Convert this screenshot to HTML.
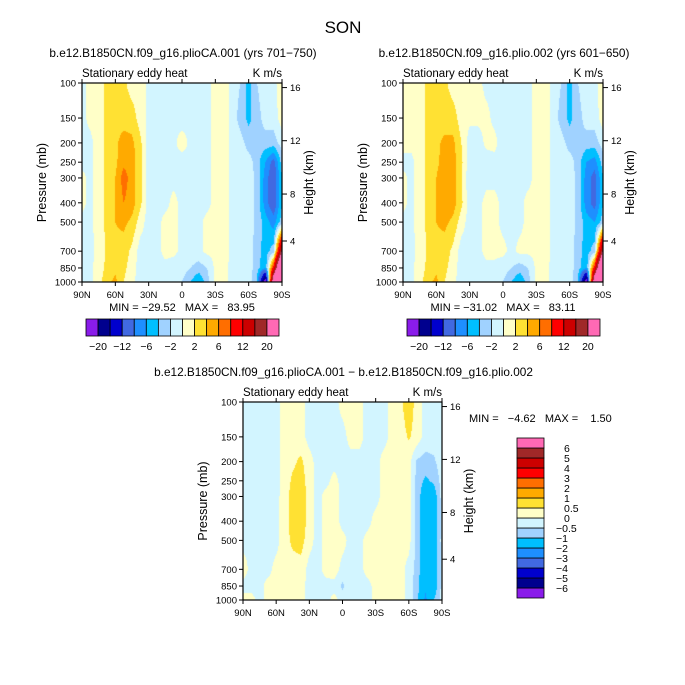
<!DOCTYPE html>
<html><head><meta charset="utf-8">
<style>
html,body{margin:0;padding:0;background:#fff;}
#wrap{position:relative;width:685px;height:685px;overflow:hidden;background:#fff;}
canvas{position:absolute;}
svg{position:absolute;left:0;top:0;}
text{font-family:"Liberation Sans",sans-serif;fill:#000;white-space:pre;}
</style></head>
<body>
<div id="wrap">
<canvas id="cA" width="200" height="199" style="left:82px;top:83px"></canvas>
<canvas id="cB" width="200" height="199" style="left:403px;top:83px"></canvas>
<canvas id="cC" width="199" height="198" style="left:243px;top:402px"></canvas>
<svg id="svg" width="685" height="685"></svg>
</div>
<script>
const pLevels=[100,150,200,250,300,400,500,700,850,1000];
const latLabels=["90N","60N","30N","0","30S","60S","90S"];
const pLabels=[100,150,200,250,300,400,500,700,850,1000];
const heightLabels=[16,12,8,4];
const heightFrac=[0.023,0.29,0.558,0.794];
const levelsTop=[-20,-16,-12,-8,-6,-4,-2,0,2,4,6,8,12,16,20];
const levelsDiff=[-6,-5,-4,-3,-2,-1,-0.5,0,0.5,1,2,3,4,5,6];
const barLabelsTop=["\u221220","\u221212","\u22126","\u22122","2","6","12","20"];
const barLabelsDiff=["6","5","4","3","2","1","0.5","0","\u22120.5","\u22121","\u22122","\u22123","\u22124","\u22125","\u22126"];
const colors=["#8A1CEA","#00008E","#0000CD","#4169E1","#1E8FFF","#00BFFF","#A0D2FF","#D2F5FF","#FFFFC8","#FFE133","#FFAA00","#FF6E00","#FF0000","#CC0000","#A02828","#FF69B4"];
// 25 latitude columns 90N..90S (7.5 deg), rows = pLevels
const panelA=[
[-0.5,0.5,1,2.5,3,2.5,1,1,-0.5,-0.5,-0.5,-0.5,-0.5,-1,-0.5,-0.5,0.5,1,-0.5,-2,-5,-2,-0.5,-0.5,1],
[-0.5,0.5,1,2.5,3,3,3,1,-0.5,-1,-0.5,-0.5,-1,-0.5,-0.5,-0.5,0.5,1,-0.5,-3,-4.5,-3,-1,-1,1],
[-0.5,-0.5,1,2.5,3.5,5,4.5,2.5,-1,-1,-1,-0.5,1,-0.5,-0.5,-0.5,0.5,1,-0.5,-1,-3,-3,-3,-3,-1],
[-0.5,-0.5,1,2.5,3.5,5.5,5,2.5,-1,-1,-1,-0.5,-1,-0.5,-0.5,-0.5,0.5,1,-0.5,-0.5,-1,-3,-6,-9,-3],
[0.5,-0.5,1,2.5,4,7,5,2.5,-1,-0.5,-0.5,-0.5,-0.5,-0.5,-0.5,-0.5,0.5,1,-0.5,-0.5,-1,-2.5,-7,-10,-4],
[0.5,-0.5,1,2.5,4,6,5,2.5,-1,-0.5,-0.5,0.5,-0.5,-0.5,-0.5,-0.5,0.5,1,-0.5,-0.5,-1,-2.5,-7,-10,-4],
[-0.5,-0.5,1,2.5,4,4.5,3.5,1,-1,-0.5,0.5,0.5,-0.5,-0.5,-0.5,0.5,0.5,1,-0.5,-0.5,-1,-2.5,-5,-7,-3],
[-0.5,-0.5,0.5,2.5,3.5,3,1.5,-1,-1,-0.5,0.5,0.5,-0.5,-0.5,-0.5,0.5,0.5,1,-0.5,-0.5,-1,-3,-5,-3,20],
[-0.5,-0.5,1,2.5,3.5,2.5,1,-1,-0.5,-0.5,-0.5,-1,-1,-2,-3,-2,0.5,0.5,-0.5,-0.5,-1,-3,-6,10,40],
[-0.5,-0.5,1,3.5,4.5,2,0.5,-1,-0.5,-0.5,-0.5,-1,-2,-4,-6,-3,0.5,0.5,-0.5,-0.5,-1,-4,-25,30,60]];
const panelB=[
[0.5,0.5,1,2.5,3,2.5,1,0.5,0.5,0.5,-0.5,-0.5,-1,-1,-0.5,-0.5,0.5,1,-0.5,-2,-5,-2,-0.5,-0.5,1],
[0.5,0.5,1,2.5,3,3,3,1,0.5,0.5,0.5,-0.5,-1,-0.5,-0.5,-0.5,0.5,1,-0.5,-3,-4.5,-3,-1,-1,1],
[0.5,0.5,1,2.5,3.5,4.5,4.5,2,-1,-1,0.5,0.5,-1,-0.5,-0.5,-0.5,0.5,1,-0.5,-1,-3,-2.5,-3,-3,-1],
[-0.5,-0.5,1,2.5,3.5,5,5,2.5,-1,-1,-1,-0.5,-1,-0.5,-0.5,-0.5,0.5,1,-0.5,-0.5,-1,-3,-6,-7,-3],
[0.5,-0.5,1,2.5,4,5.5,5,2.5,-2,-1,-0.5,-0.5,-0.5,-0.5,-0.5,-0.5,0.5,1,-0.5,-0.5,-1,-2.5,-7,-9,-4],
[0.5,-0.5,1,2.5,4,5.5,5,2.5,-1,-0.5,0.5,0.5,-0.5,-0.5,-0.5,0.5,0.5,1,-0.5,-0.5,-1,-2.5,-7,-9,-4],
[-0.5,-0.5,1,2.5,4,4.5,3.5,1,-1,-0.5,0.5,0.5,-0.5,-0.5,-0.5,0.5,0.5,1,-0.5,-0.5,-1,-2.5,-5,-6,-3],
[-0.5,-0.5,0.5,2.5,3.5,3,1.5,-1,-1,-0.5,0.5,0.5,0.5,-0.5,0.5,0.5,0.5,1,-0.5,-0.5,-1,-3,-5,-3,20],
[-0.5,-0.5,1,2.5,3.5,2.5,1,-1,-0.5,-0.5,-0.5,-0.5,-1,-2,-3,-2,0.5,0.5,-0.5,-0.5,-1,-3,-6,10,40],
[-0.5,-0.5,1,3.5,4.5,2,0.5,-1,-0.5,-0.5,-0.5,-1,-2,-4,-6,-3,0.5,0.5,-0.5,-0.5,-1,-4,-25,30,60]];
const panelC=[
[-0.2,-0.2,-0.2,-0.2,-0.2,0.2,0.3,0.2,-0.2,-0.2,-0.2,-0.2,0.2,0.3,0.2,-0.2,-0.2,-0.2,0.2,0.4,0.8,0.3,-0.2,-0.2,-0.2],
[-0.2,-0.2,-0.2,-0.2,-0.2,0.2,0.3,0.2,-0.2,-0.2,-0.2,-0.2,-0.2,0.2,0.2,-0.2,-0.2,-0.2,0.2,0.3,0.55,0.3,-0.2,-0.2,-0.2],
[-0.2,-0.2,-0.2,-0.2,-0.2,0.2,0.4,0.6,0.2,-0.2,-0.2,-0.2,-0.2,-0.2,-0.2,-0.2,-0.2,0.2,0.3,0.3,0.2,-0.6,-0.7,-0.6,-0.2],
[-0.2,-0.2,-0.2,-0.2,-0.2,0.2,0.6,0.7,0.3,-0.2,-0.2,0.2,-0.2,-0.2,-0.2,-0.2,-0.2,0.2,0.3,0.3,0.2,-0.7,-1.1,-0.9,-0.3],
[-0.2,-0.2,-0.2,-0.2,-0.2,0.3,0.7,0.8,0.3,-0.2,0.2,0.3,-0.2,-0.2,-0.2,-0.2,-0.2,0.2,0.3,0.3,0.2,-0.7,-1.5,-1.4,-0.3],
[-0.2,-0.2,-0.2,-0.2,-0.2,0.3,0.7,0.8,0.3,-0.2,0.2,0.3,-0.2,-0.2,-0.2,-0.2,0.2,0.2,0.3,0.3,0.2,-0.7,-1.6,-1.5,-0.3],
[-0.2,-0.2,-0.2,-0.2,-0.2,0.3,0.6,0.7,0.2,-0.2,0.2,0.3,0.2,-0.2,-0.2,0.2,0.2,0.2,0.3,0.3,0.2,-0.7,-1.5,-1.4,-0.3],
[0.3,-0.2,-0.2,-0.2,0.2,0.3,0.3,0.3,-0.2,-0.2,0.2,0.3,-0.2,-0.2,-0.2,0.2,0.2,0.2,0.3,0.2,-0.2,-0.7,-1.6,-1.5,-0.3],
[-0.2,-0.2,-0.2,0.2,0.2,0.2,0.3,0.2,-0.2,-0.2,-0.2,-0.2,-0.6,-0.2,-0.2,-0.2,0.2,0.2,0.3,0.2,-0.2,-0.8,-1.8,-1.5,-0.3],
[0.2,0.2,-0.2,0.2,0.2,0.2,0.2,0.2,-0.2,-0.2,-0.2,0.2,-0.2,-0.2,-0.2,-0.2,0.2,0.2,0.3,0.2,-0.2,-0.8,-2.2,-1.0,-0.3]];

function levelIndex(v,levels){let i=0;while(i<levels.length&&v>=levels[i])i++;return i;}
function hexRGB(h){return [parseInt(h.substr(1,2),16),parseInt(h.substr(3,2),16),parseInt(h.substr(5,2),16)];}
const rgb=colors.map(hexRGB);
const logP=pLevels.map(p=>Math.log10(p));
function drawField(id,grid,levels){
  const cv=document.getElementById(id),ctx=cv.getContext('2d');
  const W=cv.width,H=cv.height,img=ctx.createImageData(W,H);
  const nc=grid[0].length;
  for(let y=0;y<H;y++){
    const lp=2+(y+0.5)/H;
    let r=0;while(r<logP.length-2&&lp>logP[r+1])r++;
    const t=Math.min(1,Math.max(0,(lp-logP[r])/(logP[r+1]-logP[r])));
    for(let x=0;x<W;x++){
      const u=(x+0.5)/W*(nc-1);let c=Math.min(nc-2,Math.floor(u));const s=u-c;
      const v0=grid[r][c]*(1-s)+grid[r][c+1]*s, v1=grid[r+1][c]*(1-s)+grid[r+1][c+1]*s;
      const v=v0*(1-t)+v1*t;
      const col=rgb[levelIndex(v,levels)];
      const k=(y*W+x)*4;img.data[k]=col[0];img.data[k+1]=col[1];img.data[k+2]=col[2];img.data[k+3]=255;
    }
  }
  ctx.putImageData(img,0,0);
}
drawField('cA',panelA,levelsTop);
drawField('cB',panelB,levelsTop);
drawField('cC',panelC,levelsDiff);

const NS="http://www.w3.org/2000/svg";
const svg=document.getElementById('svg');
function el(tag,attrs,parent){const e=document.createElementNS(NS,tag);for(const k in attrs)e.setAttribute(k,attrs[k]);(parent||svg).appendChild(e);return e;}
function txt(x,y,s,size,anchor,parent,rot){const t=el('text',{x:x,y:y,'font-size':size,'text-anchor':anchor||'start'},parent);if(rot)t.setAttribute('transform','rotate(-90 '+x+' '+y+')');t.textContent=s;return t;}

function axes(name,x0,y0,w,h,title){
  const g=el('g',{});
  
  
  el('rect',{x:x0,y:y0,width:w,height:h,fill:'none',stroke:'#000','stroke-width':1.2},g);
  for(let i=0;i<latLabels.length;i++){
    const x=x0+w*i/(latLabels.length-1);
    el('line',{x1:x,y1:y0+h,x2:x,y2:y0+h+4,stroke:'#000'},g);
    el('line',{x1:x,y1:y0,x2:x,y2:y0-4,stroke:'#000'},g);
    const t=txt(x,y0+h+16,latLabels[i],9.5,'middle',g);
    
    
  }
  for(let i=0;i<pLabels.length;i++){
    const y=y0+h*(Math.log10(pLabels[i])-2);
    el('line',{x1:x0,y1:y,x2:x0-4,y2:y,stroke:'#000'},g);
    const t=txt(x0-6,y+3.5,String(pLabels[i]),9.5,'end',g);
    
    
  }
  for(let i=0;i<heightLabels.length;i++){
    const y=y0+h*heightFrac[i];
    el('line',{x1:x0+w,y1:y,x2:x0+w+5,y2:y,stroke:'#000'},g);
    const t=txt(x0+w+8,y+3.5,String(heightLabels[i]),9.5,'start',g);
    
    
  }
  const py=txt(x0-36,y0+h/2,'Pressure (mb)',12.5,'middle',g,true);
  
  
  const hy=txt(x0+w+31,y0+h/2,'Height (km)',12.5,'middle',g,true);
  
  
  const st=txt(x0,y0-6,'Stationary eddy heat',11.5,'start',g);
  
  
  const un=txt(x0+w,y0-6,'K m/s',11.5,'end',g);
  
  
  const tt=txt(x0+w/2+1,y0-26,title,11.8,'middle',g);
  
  
}
const mt=txt(343,33,'SON',17,'middle');


axes('panel-a',82,83,200,199,'b.e12.B1850CN.f09_g16.plioCA.001 (yrs 701\u2212750)');
axes('panel-b',403,83,200,199,'b.e12.B1850CN.f09_g16.plio.002 (yrs 601\u2212650)');
axes('panel-c',243,402,199,198,'b.e12.B1850CN.f09_g16.plioCA.001 \u2212 b.e12.B1850CN.f09_g16.plio.002');
let m=txt(182,311,'MIN = \u221229.52   MAX =   83.95',11,'middle');

m=txt(503,311,'MIN = \u221231.02   MAX =   83.11',11,'middle');

m=txt(469,422,'MIN =   \u22124.62   MAX =    1.50',11,'start');


function hbar(name,x0,y0,w,h){
  const g=el('g',{});
  
  
  const bw=w/colors.length;
  for(let i=0;i<colors.length;i++){
    const r=el('rect',{x:x0+i*bw,y:y0,width:bw,height:h,fill:colors[i],stroke:'#000','stroke-width':0.8},g);
    
    
  }
  for(let j=0;j<barLabelsTop.length;j++){
    const t=txt(x0+bw*(1+2*j),y0+h+14,barLabelsTop[j],10.5,'middle',g);
    
    
  }
}
hbar('colorbar-a',86,319,193,17);
hbar('colorbar-b',407,319,193,17);
(function(){
  const g=el('g',{});
  
  
  const x0=517,y0=438,w=27,bh=10;
  for(let i=0;i<colors.length;i++){
    const r=el('rect',{x:x0,y:y0+(colors.length-1-i)*bh,width:w,height:bh,fill:colors[i],stroke:'#000','stroke-width':0.8},g);
    
    
  }
  for(let j=0;j<barLabelsDiff.length;j++){
    const lab=barLabelsDiff[j];
    const t=txt(lab.charAt(0)==='\u2212'?556:564,y0+bh*(j+1)+4,lab,10.5,'start',g);
    
    
  }
})();
</script>
</body></html>
